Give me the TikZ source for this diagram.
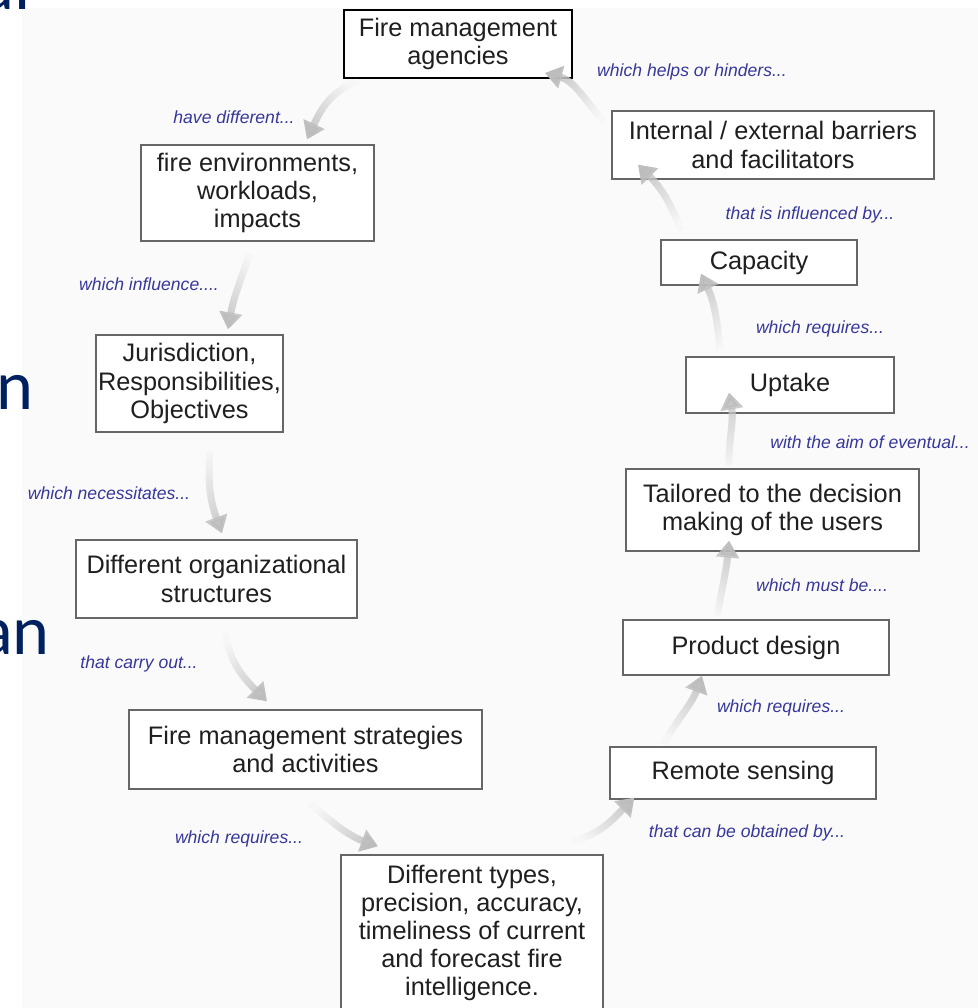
\documentclass[tikz,border=0pt]{standalone}
\usepackage{fontspec}
\setmainfont{Liberation Sans}
\newfontfamily\slidefont{Carlito}
\usetikzlibrary{arrows.meta,calc,fadings}
\definecolor{labelblue}{RGB}{55,55,155}
\definecolor{slideblue}{RGB}{0,32,96}
\tikzfading[name=tailfade, left color=transparent!95, right color=transparent!0]

\begin{document}
\begin{tikzpicture}[x=0.025cm, y=0.025cm,
		box/.style={draw=black!60, fill=white, line width=0.9pt, align=center, inner sep=1pt, text=black!88, font=\fontsize{18}{20}\selectfont},
		lbl/.style={text=labelblue, font=\fontsize{12.5}{14}\selectfont\itshape},
		flow/.style={line width=5pt, draw=black!22, path fading=tailfade, -{Triangle[length=12pt,width=16pt,color=black!26]}},
		frag/.style={text=slideblue, anchor=base east, inner sep=0pt, font=\slidefont\fontsize{50}{60}\selectfont}]
		\useasboundingbox (0,0) rectangle (978,1008);
		\fill[black!2] (22,0) rectangle (978,1000);

		% slide text behind the picture
		\node[frag] (fa) at (31,998) {al};
		\node[frag] (fb) at (34,598) {n};
		\node[frag] (fc) at (50,353) {an};

		\node[box, minimum width=5.7cm, minimum height=1.7cm, draw=black, line width=1.3pt] (agencies) at (458,964) {Fire management\\agencies};
		\node[box, minimum width=5.825cm, minimum height=2.4cm] (env) at (257.5,815) {fire environments,\\workloads,\\impacts};
		\node[box, minimum width=4.675cm, minimum height=2.425cm] (juris) at (189.5,624.5) {Jurisdiction,\\Responsibilities,\\Objectives};
		\node[box, minimum width=7.025cm, minimum height=1.95cm] (org) at (216.5,429) {Different organizational\\structures};
		\node[box, minimum width=8.825cm, minimum height=1.975cm] (strat) at (305.5,258.5) {Fire management strategies\\and activities};
		\node[box, minimum width=6.55cm, minimum height=3.9cm] (types) at (472,75) {Different types,\\precision, accuracy,\\timeliness of current\\and forecast fire\\intelligence.};
		\node[box, minimum width=6.65cm, minimum height=1.3cm] (remote) at (743,235) {Remote sensing};
		\node[box, minimum width=6.65cm, minimum height=1.375cm] (product) at (756,360.5) {Product design};
		\node[box, minimum width=7.325cm, minimum height=2.05cm] (tailored) at (772.5,498) {Tailored to the decision\\making of the users};
		\node[box, minimum width=5.2cm, minimum height=1.4cm] (uptake) at (790,623) {Uptake};
		\node[box, minimum width=4.9cm, minimum height=1.125cm] (capacity) at (759,745.5) {Capacity};
		\node[box, minimum width=8.05cm, minimum height=1.7cm] (internal) at (773,863) {Internal / external barriers\\and facilitators};

		\node[lbl] (l1) at (234,891) {have different...};
		\node[lbl] (l2) at (149,724) {which influence....};
		\node[lbl] (l3) at (109,515) {which necessitates...};
		\node[lbl] (l4) at (139,344) {that carry out...};
		\node[lbl] (l5) at (239,169) {which requires...};
		\node[lbl] (l6) at (747,175) {that can be obtained by...};
		\node[lbl] (l7) at (781,300) {which requires...};
		\node[lbl] (l8) at (822,423) {which must be....};
		\node[lbl] (l9) at (870,566) {with the aim of eventual...};
		\node[lbl] (l10) at (820,679) {which requires...};
		\node[lbl] (l11) at (810,793) {that is influenced by...};
		\node[lbl] (l12) at (692,936) {which helps or hinders...};

		\draw[flow, fading angle=229] ($(agencies.south west)+(15,-2)$) to[out=200, in=65]  ($(env.north)+(49.5,5)$);
		\draw[flow, fading angle=254] ($(env.south)+(-7.5,-12)$)        to[out=250, in=80]  ($(juris.north)+(38.5,5)$);
		\draw[flow, fading angle=278] ($(juris.south)+(20.5,-18)$)      to[out=265, in=110] ($(org.north)+(5.5,6)$);
		\draw[flow, fading angle=301] ($(org.south)+(8.5,-15)$)         to[out=280, in=135] ($(strat.north)+(-38.5,8)$);
		\draw[flow, fading angle=327] ($(strat.south)+(4.5,-14)$)       to[out=320, in=160] ($(types.north)+(-94,8)$);
		\draw[flow, fading angle=36]  ($(types.north)+(101,13)$)        to[out=15,  in=225] ($(remote.south west)+(25,2)$);
		\draw[flow, fading angle=61]  ($(remote.north)+(-80,2)$)        to[out=60,  in=250] ($(product.south)+(-54,0)$);
		\draw[flow, fading angle=81]  ($(product.north)+(-39,3)$)       to[out=80,  in=265] ($(tailored.south)+(-43.5,11)$);
		\draw[flow, fading angle=92]  ($(tailored.north)+(-43.5,3)$)    to[out=90,  in=280] ($(uptake.south)+(-61,21)$);
		\draw[flow, fading angle=104] ($(uptake.north)+(-70,7)$)        to[out=95,  in=295] ($(capacity.south)+(-58,12)$);
		\draw[flow, fading angle=123] ($(capacity.north)+(-78,9)$)      to[out=110, in=315] ($(internal.south)+(-135,15)$);
		\draw[flow, fading angle=140] ($(internal.north west)+(-8,-11)$) to[out=130, in=345] ($(agencies.south east)+(-28,6)$);
	\end{tikzpicture}
\end{document}
